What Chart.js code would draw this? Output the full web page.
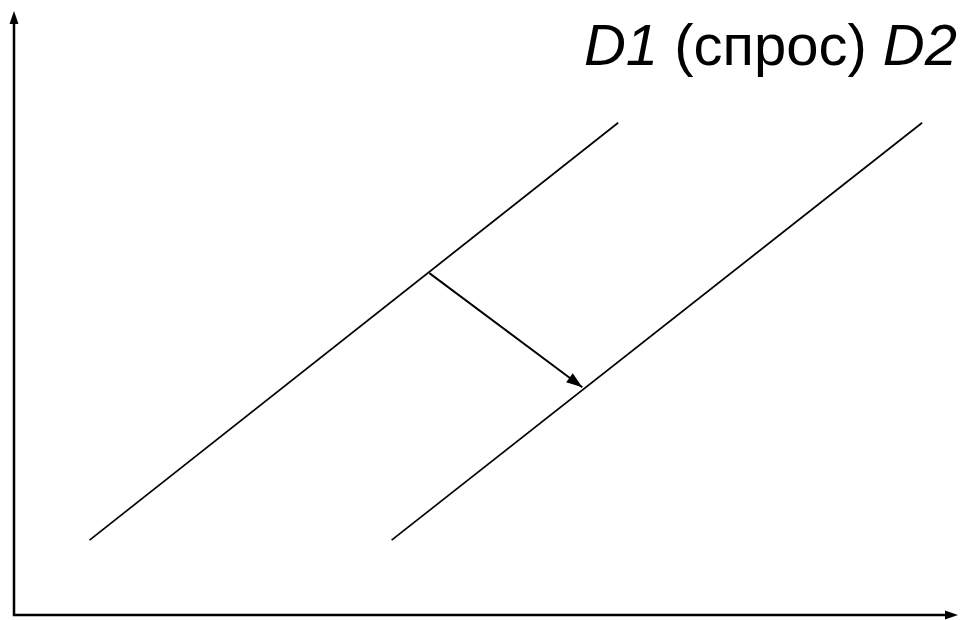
<!DOCTYPE html>
<html>
<head>
<meta charset="utf-8">
<script src="https://cdn.jsdelivr.net/npm/chart.js@4"></script>
<style>
  html, body { margin: 0; padding: 0; background: #fff; }
  #wrap { width: 963px; height: 620px; }
</style>
</head>
<body>
<div id="wrap"><canvas id="demandChart" width="963" height="620"></canvas></div>
<script>
// кривые спроса (условные единицы: 0..100 по обеим осям)
const d1Line = [{ x: 8, y: 12.4 }, { x: 64, y: 81.5 }];
const d2Line = [{ x: 40, y: 12.4 }, { x: 96.2, y: 81.5 }];
// стрелка сдвига спроса D1 -> D2
const shiftArrow = [{ x: 44, y: 56.6 }, { x: 60.2, y: 37.7 }];
const axisRange = { min: 0, max: 100 };
const labelParts = [
    { text: "D1", italic: true },
    { text: " (спрос) ", italic: false },
    { text: "D2", italic: true }
];

// рисуем наконечник стрелки
function arrowHead(ctx, x0, y0, x1, y1, len, half) {
    const a = Math.atan2(y1 - y0, x1 - x0);
    ctx.beginPath();
    ctx.moveTo(x1, y1);
    ctx.lineTo(x1 - len * Math.cos(a) + half * Math.sin(a), y1 - len * Math.sin(a) - half * Math.cos(a));
    ctx.lineTo(x1 - len * Math.cos(a) - half * Math.sin(a), y1 - len * Math.sin(a) + half * Math.cos(a));
    ctx.closePath();
    ctx.fill();
}

// оси со стрелками, наконечник стрелки сдвига и подпись
const decorPlugin = {
    id: "decor",
    afterDatasetsDraw(chart) {
        const ctx = chart.ctx;
        const xs = chart.scales.x, ys = chart.scales.y;
        const ox = xs.getPixelForValue(axisRange.min);
        const oy = ys.getPixelForValue(axisRange.min);
        const xe = xs.getPixelForValue(axisRange.max);
        const ye = ys.getPixelForValue(axisRange.max);
        ctx.save();
        ctx.strokeStyle = "#000";
        ctx.fillStyle = "#000";
        ctx.lineWidth = 2.5;
        ctx.beginPath();
        ctx.moveTo(ox, ye + 10);
        ctx.lineTo(ox, oy);
        ctx.lineTo(xe - 10, oy);
        ctx.stroke();
        arrowHead(ctx, ox, oy, ox, ye, 13, 4.5);
        arrowHead(ctx, ox, oy, xe, oy, 13, 4.5);

        // наконечник стрелки сдвига
        const p0 = shiftArrow[0], p1 = shiftArrow[shiftArrow.length - 1];
        arrowHead(ctx, xs.getPixelForValue(p0.x), ys.getPixelForValue(p0.y),
            xs.getPixelForValue(p1.x), ys.getPixelForValue(p1.y), 16, 5.5);

        // подпись "D1 (спрос) D2"
        const font = (it) => (it ? "italic " : "") + "58px 'Liberation Sans', Arial, sans-serif";
        ctx.textBaseline = "alphabetic";
        let total = 0;
        labelParts.forEach(p => { ctx.font = font(p.italic); total += ctx.measureText(p.text).width; });
        let x = 957 - total;
        labelParts.forEach(p => {
            ctx.font = font(p.italic);
            ctx.fillText(p.text, x, 65);
            x += ctx.measureText(p.text).width;
        });
        ctx.restore();
    }
};

const lineStyle = {
    showLine: true,
    borderColor: "#000",
    borderWidth: 1.7,
    pointRadius: 0,
    fill: false
};

new Chart(document.getElementById("demandChart"), {
    type: "scatter",
    data: {
        datasets: [
            { label: "D1", data: d1Line, ...lineStyle },
            { label: "D2", data: d2Line, ...lineStyle },
            { label: "сдвиг", data: shiftArrow, ...lineStyle, borderWidth: 1.9 }
        ]
    },
    options: {
        responsive: false,
        animation: false,
        layout: { padding: { left: 14, right: 5, top: 11, bottom: 5 } },
        plugins: { legend: { display: false }, tooltip: { enabled: false } },
        scales: {
            x: { type: "linear", min: axisRange.min, max: axisRange.max, display: false },
            y: { type: "linear", min: axisRange.min, max: axisRange.max, display: false }
        }
    },
    plugins: [decorPlugin]
});
</script>
</body>
</html>
